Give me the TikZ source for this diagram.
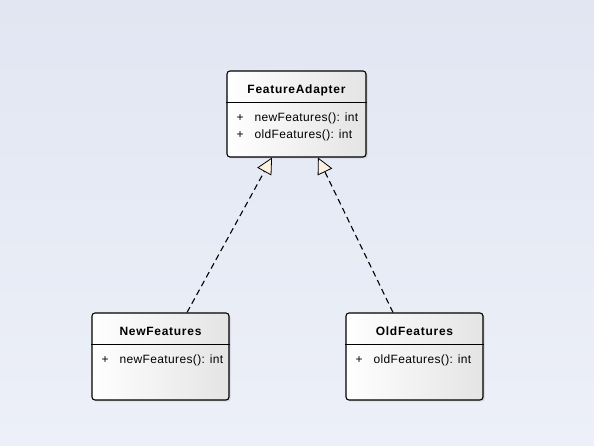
\documentclass[tikz,border=0pt]{standalone}
\usepackage{fontspec}
\setmainfont{Liberation Sans}[LetterSpace=3, BoldFeatures={LetterSpace=6}]
\usepackage{xcolor}
\usetikzlibrary{arrows.meta, positioning, shadows}

\definecolor{bgtop}{HTML}{E1E6F2}
\definecolor{bgbottom}{HTML}{EDF0F8}
\definecolor{boxright}{HTML}{E4E4E4}
\definecolor{tipfill}{HTML}{FDF2E2}

\newcommand{\op}[1]{\makebox[18pt][l]{+}#1}

\begin{document}
\begin{tikzpicture}[
    x=1pt, y=1pt,
    classbox/.style={rectangle, draw, line width=1.1pt, rounded corners=3pt, minimum width=137pt, minimum height=87pt,
        left color=white, right color=boxright, shading angle=90,
        drop shadow={shadow xshift=1.5pt, shadow yshift=-1.5pt, opacity=0.25}},
    title/.style={inner sep=0pt, anchor=base, font=\fontsize{12}{14}\selectfont\bfseries},
    op/.style={inner sep=0pt, anchor=base west, font=\fontsize{12}{14}\selectfont},
    realize/.style={draw, line width=1.1pt, dash pattern=on 6pt off 4pt,
        -{Triangle[length=16pt, width=16pt, fill=tipfill, line width=0.8pt]}}
]
    % background
    \shade[top color=bgtop, bottom color=bgbottom] (0,0) rectangle (594,446);
    \useasboundingbox (0,0) rectangle (594,446);

    % FeatureAdapter
    \node[classbox, minimum width=139pt, minimum height=86pt] (fa) at (296.5,332) {};
    \node[title] (faname) at ([yshift=-23.5pt]fa.north) {FeatureAdapter};
    \draw[line width=1pt] ([yshift=-32pt]fa.north west) -- ([yshift=-32pt]fa.north east);
    \node[op] (fa1) at ([xshift=10pt, yshift=-51pt]fa.north west) {\op{newFeatures(): int}};
    \node[op] (fa2) at ([yshift=-17pt]fa1.base west) {\op{oldFeatures(): int}};

    % NewFeatures
    \node[classbox] (nf) at (160.5,89.5) {};
    \node[title] (nfname) at ([yshift=-23.5pt]nf.north) {NewFeatures};
    \draw[line width=1pt] ([yshift=-32pt]nf.north west) -- ([yshift=-32pt]nf.north east);
    \node[op] (nf1) at ([xshift=10pt, yshift=-51pt]nf.north west) {\op{newFeatures(): int}};

    % OldFeatures
    \node[classbox] (of) at (414.5,89.5) {};
    \node[title] (ofname) at ([yshift=-23.5pt]of.north) {OldFeatures};
    \draw[line width=1pt] ([yshift=-32pt]of.north west) -- ([yshift=-32pt]of.north east);
    \node[op] (of1) at ([xshift=10pt, yshift=-51pt]of.north west) {\op{oldFeatures(): int}};

    % realizations
    \draw[realize] ([xshift=26.5pt]nf.north) -- ([xshift=-24.5pt]fa.south);
    \draw[realize] ([xshift=-21.5pt]of.north) -- ([xshift=21.5pt]fa.south);
\end{tikzpicture}
\end{document}
